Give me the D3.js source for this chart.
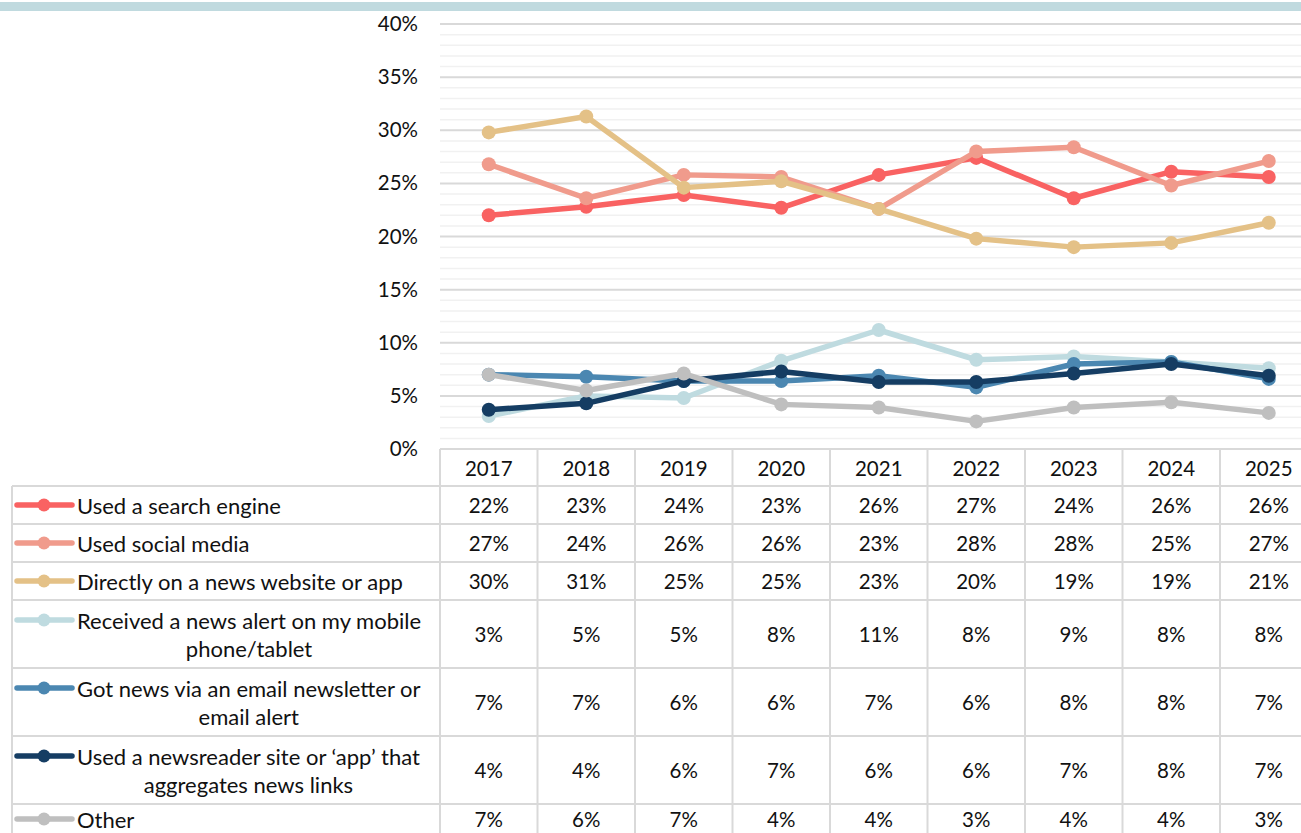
<!DOCTYPE html>
<html>
<head>
<meta charset="utf-8">
<script src="https://cdn.jsdelivr.net/npm/d3@7"></script>
<style>
  html, body { margin: 0; padding: 0; background: #fff; }
  svg { display: block; font-family: Lato, "Open Sans", sans-serif; }
</style>
</head>
<body>
<svg id="chart" width="1301" height="833"></svg>
<script>
const years = ["2017","2018","2019","2020","2021","2022","2023","2024","2025"];
const seriesNames = [
  "Used a search engine",
  "Used social media",
  "Directly on a news website or app",
  "Received a news alert on my mobile phone/tablet",
  "Got news via an email newsletter or email alert",
  "Used a newsreader site or \u2018app\u2019 that aggregates news links",
  "Other"
];
const labelLines = [
  ["Used a search engine"],
  ["Used social media"],
  ["Directly on a news website or app"],
  ["Received a news alert on my mobile", "phone/tablet"],
  ["Got news via an email newsletter or", "email alert"],
  ["Used a newsreader site or \u2018app\u2019 that", "aggregates news links"],
  ["Other"]
];
const colors = ["#f96262", "#f09b8c", "#e4c187", "#bfdbe0", "#4b87b1", "#153d63", "#bfbfbf"];

const searchEngine = [22.0, 22.8, 23.9, 22.7, 25.8, 27.4, 23.6, 26.1, 25.6];
const socialMedia  = [26.8, 23.6, 25.8, 25.6, 22.6, 28.0, 28.4, 24.8, 27.1];
const directly     = [29.8, 31.3, 24.6, 25.2, 22.6, 19.8, 19.0, 19.4, 21.3];
const newsAlert    = [3.1, 5.0, 4.8, 8.3, 11.2, 8.4, 8.7, 8.2, 7.6];
const emailNews    = [7.0, 6.8, 6.4, 6.4, 6.9, 5.8, 8.0, 8.2, 6.6];
const newsreader   = [3.7, 4.3, 6.4, 7.3, 6.3, 6.3, 7.1, 8.0, 6.9];
const other        = [7.0, 5.5, 7.1, 4.2, 3.9, 2.6, 3.9, 4.4, 3.4];
const seriesValues = [searchEngine, socialMedia, directly, newsAlert, emailNews, newsreader, other];

const yTicks = [0, 5, 10, 15, 20, 25, 30, 35, 40];

const svg = d3.select("#chart");
const FONT = 20.5;
const LABEL_FONT = 22;

// top band
svg.append("rect").attr("x", 0).attr("y", 2).attr("width", 1301).attr("height", 9).attr("fill", "#c0dadf");

const x = d3.scaleBand().domain(years).range([440, 1317.5]).paddingInner(0).paddingOuter(0);
const y = d3.scaleLinear().domain([0, 40]).range([449, 24]);

// grid lines
const grid = svg.append("g");
const minor = d3.range(0, 41, 1).filter(v => v % 5 !== 0);
grid.selectAll("line.minor").data(minor).join("line")
  .attr("x1", 440).attr("x2", 1301)
  .attr("y1", d => y(d)).attr("y2", d => y(d))
  .attr("stroke", "#f1f1f1").attr("stroke-width", 1.5);
grid.selectAll("line.major").data(yTicks).join("line")
  .attr("x1", 440).attr("x2", 1301)
  .attr("y1", d => y(d)).attr("y2", d => y(d))
  .attr("stroke", "#d9d9d9").attr("stroke-width", 2);

// y axis labels
const yAxis = d3.axisLeft(y).tickValues(yTicks).tickFormat(d => d + "%").tickSize(0).tickPadding(0);
const yg = svg.append("g").attr("transform", "translate(418,0)").call(yAxis);
yg.select(".domain").remove();
yg.selectAll("text").attr("font-size", FONT).attr("fill", "#111").attr("font-family", "Lato, sans-serif");

// lines
const line = d3.line().x((d, i) => x(years[i]) + x.bandwidth() / 2).y(d => y(d));
seriesValues.forEach((vals, s) => {
  const g = svg.append("g");
  g.append("path").attr("d", line(vals)).attr("fill", "none")
    .attr("stroke", colors[s]).attr("stroke-width", 5.5).attr("stroke-linejoin", "round");
  g.selectAll("circle").data(vals).join("circle")
    .attr("cx", (d, i) => x(years[i]) + x.bandwidth() / 2)
    .attr("cy", d => y(d)).attr("r", 7).attr("fill", colors[s]);
});

// data table
const rowTops = [486, 524, 562, 600, 668, 736, 804];
const rowHeights = [38, 38, 38, 68, 68, 68, 30];
const tbl = svg.append("g");
const gridColor = "#d9d9d9";

// header years
tbl.selectAll("text.yr").data(years).join("text")
  .attr("x", d => x(d) + x.bandwidth() / 2).attr("y", 468)
  .attr("text-anchor", "middle").attr("dominant-baseline", "central")
  .attr("font-size", FONT).attr("fill", "#111").text(d => d);

// horizontal lines
tbl.selectAll("line.h").data(rowTops).join("line")
  .attr("x1", 12).attr("x2", 1317.5).attr("y1", d => d).attr("y2", d => d)
  .attr("stroke", gridColor).attr("stroke-width", 2);
// vertical lines (column boundaries)
const bounds = years.map(d => x(d)).concat([x(years[years.length - 1]) + x.bandwidth()]);
tbl.selectAll("line.v").data(bounds).join("line")
  .attr("x1", d => d).attr("x2", d => d).attr("y1", 449).attr("y2", 833)
  .attr("stroke", gridColor).attr("stroke-width", 2);
tbl.append("line").attr("x1", 12).attr("x2", 12).attr("y1", 486).attr("y2", 833)
  .attr("stroke", gridColor).attr("stroke-width", 2);

seriesValues.forEach((vals, s) => {
  const top = rowTops[s], h = rowHeights[s];
  const lines = labelLines[s];
  const firstY = lines.length === 1 ? top + h / 2 : top + h / 2 - 14;
  // legend key
  tbl.append("line").attr("x1", 17).attr("x2", 72).attr("y1", firstY).attr("y2", firstY)
    .attr("stroke", colors[s]).attr("stroke-width", 5.5).attr("stroke-linecap", "round");
  tbl.append("circle").attr("cx", 44).attr("cy", firstY).attr("r", 6.5).attr("fill", colors[s]);
  const t1 = tbl.append("text").attr("x", 77).attr("y", firstY)
    .attr("dominant-baseline", "central").attr("font-size", LABEL_FONT).attr("fill", "#111").text(lines[0]);
  if (lines.length > 1) {
    const w = t1.node().getComputedTextLength();
    tbl.append("text").attr("x", 77 + w / 2).attr("y", firstY + 28)
      .attr("text-anchor", "middle").attr("dominant-baseline", "central")
      .attr("font-size", LABEL_FONT).attr("fill", "#111").text(lines[1]);
  }
  // values
  tbl.selectAll(null).data(vals).join("text")
    .attr("x", (d, i) => x(years[i]) + x.bandwidth() / 2)
    .attr("y", top + h / 2)
    .attr("text-anchor", "middle").attr("dominant-baseline", "central")
    .attr("font-size", FONT).attr("fill", "#111")
    .text(d => Math.round(d) + "%");
});
</script>
</body>
</html>
